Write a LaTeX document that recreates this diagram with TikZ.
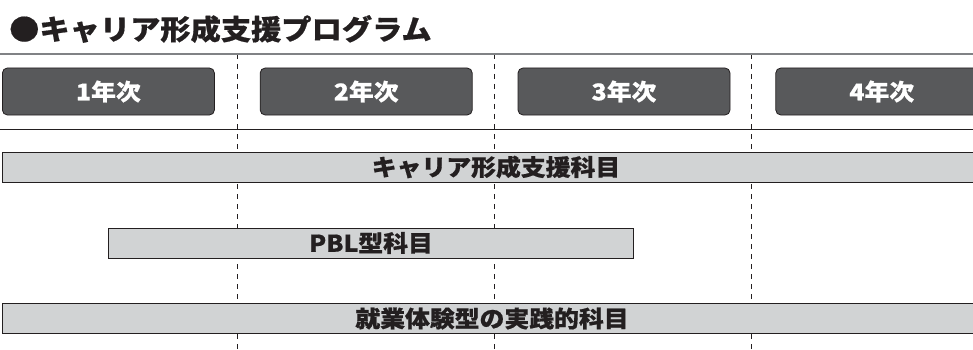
\documentclass[tikz,border=0pt]{standalone}
\usepackage{fontspec}
\newfontfamily\jp{Noto Sans CJK JP}[FakeStretch=1.08, BoldFeatures={FakeBold=0.6}]
\usetikzlibrary{positioning}

\definecolor{inkblack}{HTML}{231F20}
\definecolor{yeargray}{HTML}{58595B}
\definecolor{barfill}{HTML}{D1D3D4}
\definecolor{rulegray}{HTML}{808285}

\tikzset{
  yearbox/.style={draw=inkblack, line width=0.8pt, fill=yeargray, rounded corners=5pt,
    minimum width=212pt, minimum height=47pt, inner sep=0pt,
    text=white, font=\jp\bfseries\fontsize{23}{23}\selectfont},
  barbox/.style={draw=inkblack, line width=0.8pt, fill=barfill, minimum height=30pt, inner sep=0pt},
  barlabel/.style={text=inkblack, inner sep=0pt, font=\jp\bfseries\fontsize{23}{23}\selectfont},
  yearsep/.style={draw=inkblack, line width=0.9pt, dash pattern=on 5pt off 5pt}
}

\begin{document}
\begin{tikzpicture}[x=1pt, y=-1pt]
        \useasboundingbox (0,0) rectangle (973,350);

        % Title
        \node[anchor=west, inner sep=0pt, text=inkblack, font=\jp\bfseries\fontsize{28}{28}\selectfont] (title) at (9,29) {●キャリア形成支援プログラム};

        % Dashed lines between the years
        \draw[yearsep] (237,54) -- (237,350);
        \draw[yearsep] (494,54) -- (494,350);
        \draw[yearsep] (751,54) -- (751,350);

        % Rules above and below the years
        \draw[rulegray, line width=1.6pt] (0,54) -- (973,54);
        \draw[inkblack, line width=0.9pt] (0,129) -- (973,129);

        % Years
        \node[yearbox, anchor=west] (year1) at (2,91.5) {1年次};
        \node[yearbox, right=45pt of year1] (year2) {2年次};
        \node[yearbox, right=45pt of year2] (year3) {3年次};
        \node[yearbox, right=45pt of year3] (year4) {4年次};

        % Subject bars
        \node[barbox, anchor=west, minimum width=990pt] (career) at (2,167) {};
        \node[barlabel] (careertext) at (496,167) {キャリア形成支援科目};

        \node[barbox, anchor=west, minimum width=525pt] (pbl) at (108,243) {};
        \node[barlabel] (pbltext) at (371,243) {PBL型科目};

        \node[barbox, anchor=west, minimum width=990pt] (practice) at (2,318.5) {};
        \node[barlabel] (practicetext) at (492,318.5) {就業体験型の実践的科目};
    \end{tikzpicture}
\end{document}
